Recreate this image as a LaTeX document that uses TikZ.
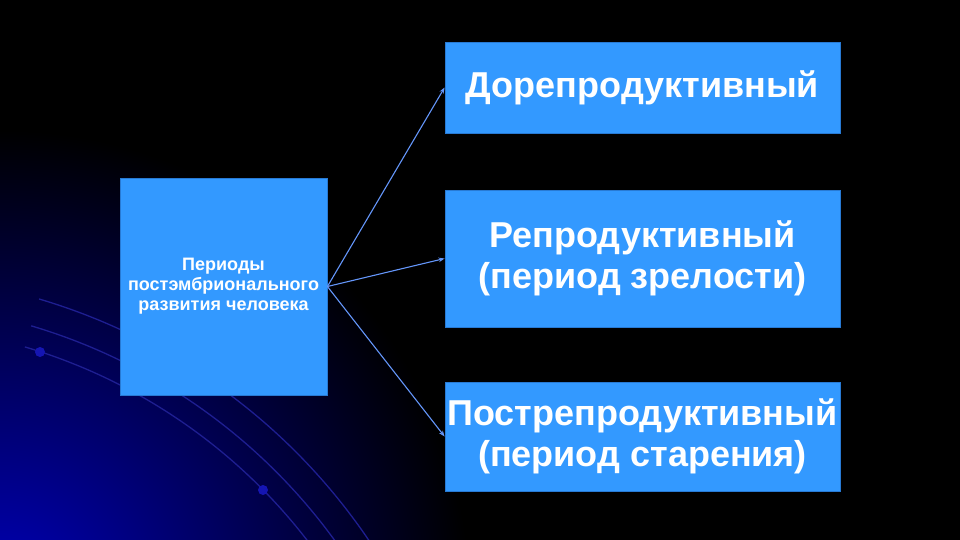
\documentclass[tikz,border=0pt]{standalone}
\usepackage{fontspec}
\setmainfont{Liberation Sans}
\usetikzlibrary{arrows.meta}
\definecolor{boxblue}{RGB}{51,153,255}
\definecolor{boxedge}{RGB}{40,122,212}
\definecolor{arrowblue}{RGB}{100,150,250}
\definecolor{orbitblue}{RGB}{30,30,145}
\definecolor{glowblue}{RGB}{0,0,185}
\begin{document}
\begin{tikzpicture}[x=1pt,y=-1pt,
    period/.style={draw=boxedge,line width=0.8pt,fill=boxblue,text=white,align=center,inner sep=0pt,
      minimum width=395pt,font=\bfseries\fontsize{36}{41}\selectfont},
    link/.style={draw=arrowblue,line width=1.1pt,-{Stealth[length=6pt,width=4.5pt]}},
    orbit/.style={draw=orbitblue,line width=1.3pt}]
    \useasboundingbox (0,0) rectangle (960,540);
    \fill [black] (0,0) rectangle (960,540);
    \begin{scope}
        \clip (0,0) rectangle (960,540);
        \shade [inner color=glowblue,outer color=black] (0,600) circle (470);
        \foreach \r in {556,578,606}
            \draw [orbit] ([shift={(-133,880)}]-73.5:\r) arc [start angle=-73.5,end angle=-30,radius=\r];
        \fill [orbitblue!70!blue] (40,352) circle (5);
        \fill [orbitblue!70!blue] (263,490) circle (5);
    \end{scope}
    \node [period,minimum width=207pt,minimum height=217pt,font=\bfseries\fontsize{18}{20}\selectfont] (periods) at (223.5,286.5) {Периоды\\постэмбрионального\\развития человека};
    \node [period,minimum height=91pt] (prerepro) at (642.5,87.5) {Дорепродуктивный};
    \node [period,minimum height=137pt] (repro) at (642.5,258.5) {Репродуктивный\\(период зрелости)};
    \node [period,minimum height=109pt] (postrepro) at (642.5,436.5) {Пострепродуктивный\\(период старения)};
    \draw [link] (periods.east) -- (prerepro.west);
    \draw [link] (periods.east) -- (repro.west);
    \draw [link] (periods.east) -- (postrepro.west);
\end{tikzpicture}
\end{document}
